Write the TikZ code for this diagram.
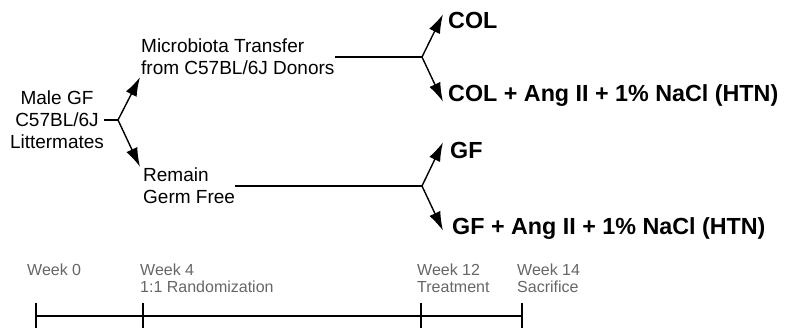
\documentclass[tikz,border=0pt]{standalone}
\usepackage{fontspec}
\setmainfont{Liberation Sans}
\usetikzlibrary{arrows.meta,positioning,calc}
\definecolor{LabelGray}{HTML}{666666}

\begin{document}
\begin{tikzpicture}[x=1pt,y=-1pt,
    plain/.style={font=\fontsize{19}{22}\selectfont, align=center, inner sep=0pt},
    group/.style={font=\fontsize{23.3}{27}\selectfont\bfseries, anchor=west,
      inner sep=0pt, text height=17pt, text depth=0pt},
    weeklab/.style={font=\fontsize{16}{18}\selectfont, text=LabelGray,
      anchor=base west, inner sep=0pt},
    link/.style={line width=1.4pt},
    arr/.style={line width=1.4pt, -{Latex[length=19pt,width=12pt]}},
    tick/.style={line width=1.6pt}]
  \useasboundingbox (0,0) rectangle (785,328);

  % starting cohort and first split
  \node[plain] (mice) at (57,120) {Male GF\\C57BL/6J\\Littermates};
  \node[plain, align=left, anchor=west] (xfer) at (141,57)
  {Microbiota Transfer\\from C57BL/6J Donors};
  \node[plain, align=left, anchor=west] (germ) at (143,186)
  {Remain\\Germ Free};

  \coordinate (splitL) at (118,120);
  \coordinate (splitC) at (422,57);
  \coordinate (splitG) at (422,186);

  \draw[link] (mice.east) -- (splitL);
  \draw[arr] (splitL) -- ([shift={(-1,2)}]xfer.south west);
  \draw[arr] (splitL) -- ([shift={(-3,-1)}]germ.north west);

  % treatment groups
  \node[group] (col) at (448,20) {COL};
  \node[group] (colhtn) at (448,93) {COL + Ang II + 1\% NaCl (HTN)};
  \node[group] (gf) at (450,150) {GF};
  \node[group] (gfhtn) at (452,226) {GF + Ang II + 1\% NaCl (HTN)};

  \draw[link] (xfer.east) -- (splitC);
  \draw[arr] (splitC) -- ([shift={(-5,3)}]col.north west);
  \draw[arr] (splitC) -- ([shift={(-5,0)}]colhtn.south west);

  \draw[link] (germ.east) -- (splitG);
  \draw[arr] (splitG) -- ([shift={(-7,1)}]gf.north west);
  \draw[arr] (splitG) -- ([shift={(-9,-4)}]gfhtn.south west);

  % timeline
  \foreach \x/\name/\wk in {27/w0/Week 0,140/w4/Week 4,417/w12/Week 12,517/w14/Week 14}
  \node[weeklab] (\name) at (\x,276) {\wk};
  \node[weeklab] (ev4) at (140,293) {1:1 Randomization};
  \node[weeklab] (ev12) at (417,293) {Treatment};
  \node[weeklab] (ev14) at (517,293) {Sacrifice};

  \foreach \x in {36,143,421,522}
  \draw[tick] (\x,303) -- (\x,328);
  \draw[tick] (36,316) -- (522,316);
\end{tikzpicture}
\end{document}
